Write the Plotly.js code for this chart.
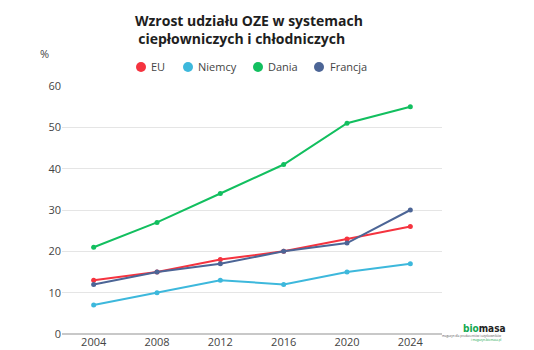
<!DOCTYPE html>
<html><head><meta charset="utf-8">
<script src="https://cdn.plot.ly/plotly-3.0.1.min.js"></script>
<style>html,body{margin:0;padding:0;background:#fff}#chart{width:534px;height:350px}</style>
</head><body><div id="chart"></div>
<script>
const years = [2004, 2008, 2012, 2016, 2020, 2024];
const seriesNames = ["EU", "Niemcy", "Dania", "Francja"];
const euValues = [13, 15, 18, 20, 23, 26];
const niemcyValues = [7, 10, 13, 12, 15, 17];
const daniaValues = [21, 27, 34, 41, 51, 55];
const francjaValues = [12, 15, 17, 20, 22, 30];
const yTicks = [0, 10, 20, 30, 40, 50, 60];
const colors = ["#f5333f", "#3db8dc", "#12bf5f", "#4c6596"];
const values = [euValues, niemcyValues, daniaValues, francjaValues];

// plot area: left 62, width 380, top 86, height 248
const L = 62, W = 380, T = 86, H = 248;
const px = v => (v - L) / W;
const py = v => (T + H - v) / H;

const order = [2, 1, 0, 3];
const traces = order.map(i => ({x: years, y: values[i], type: 'scatter', mode: 'lines+markers', name: seriesNames[i],
  line: {color: colors[i], width: 2}, marker: {color: colors[i], size: 5}, showlegend: false, cliponaxis: false}));

const legendMarkerX = [141, 188, 258, 319];
const legendTextX = [150, 197, 267, 329];
const legendY = 67;

const shapes = [];
const annotations = [
  {text: '<b>Wzrost udziału OZE w systemach</b><br><b>ciepłowniczych i chłodniczych\u00a0\u00a0\u00a0\u00a0</b>', xref: 'paper', yref: 'paper',
    x: px(249), y: py(29.5), xanchor: 'center', yanchor: 'middle', align: 'center',
    showarrow: false, font: {family: 'Open Sans, sans-serif', size: 14, color: '#1e1e1e'}},
  {text: '%', xref: 'paper', yref: 'paper', x: px(44), y: py(54), xanchor: 'center', yanchor: 'middle', showarrow: false,
    font: {size: 11, color: '#444'}},
  {text: '<b><span style="color:#12a84f">bio</span><span style="color:#222">masa</span></b>', xref: 'paper', yref: 'paper',
    x: px(461), y: py(328), xanchor: 'left', yanchor: 'middle', showarrow: false, font: {size: 10, family: 'DejaVu Sans Condensed, sans-serif'}},
  {text: 'magazyn dla producentów i użytkowników', xref: 'paper', yref: 'paper',
    x: px(504), y: py(336), xanchor: 'right', yanchor: 'middle', showarrow: false, font: {size: 3, color: '#555'}},
  {text: 'i magazyn-biomasa.pl', xref: 'paper', yref: 'paper',
    x: px(504), y: py(340), xanchor: 'right', yanchor: 'middle', showarrow: false, font: {size: 3, color: '#12a84f'}}
];
seriesNames.forEach((n, i) => {
  shapes.push({type: 'circle', xref: 'paper', yref: 'paper', xsizemode: 'pixel', ysizemode: 'pixel',
    xanchor: px(legendMarkerX[i]), yanchor: py(legendY), x0: -5, x1: 5, y0: -5, y1: 5,
    fillcolor: colors[i], line: {width: 0}});
  annotations.push({text: n, xref: 'paper', yref: 'paper', x: px(legendTextX[i]), y: py(legendY), xanchor: 'left', yanchor: 'middle',
    showarrow: false, xshift: -1, font: {size: 11, color: '#444'}});
});

const layout = {
  width: 534, height: 350,
  margin: {l: L, r: 534 - L - W, t: T, b: 350 - T - H},
  paper_bgcolor: '#fff', plot_bgcolor: '#fff',
  font: {family: 'Open Sans, sans-serif', size: 11, color: '#444'},
  xaxis: {range: [2002, 2026], tickvals: years, ticktext: years.map(String), showgrid: false, zeroline: false,
    showline: false, ticks: '', tickfont: {size: 11, color: '#444'}, fixedrange: true},
  yaxis: {range: [0, 60], tickvals: yTicks, showgrid: true, gridcolor: '#e5e5e5', gridwidth: 1,
    zeroline: true, zerolinecolor: '#c8c8c8', zerolinewidth: 1.5, ticks: '', ticklen: 0,
    tickfont: {size: 11, color: '#444'}, fixedrange: true},
  showlegend: false,
  shapes: shapes,
  annotations: annotations
};
Plotly.newPlot('chart', traces, layout, {displayModeBar: false, staticPlot: true});
</script></body></html>
